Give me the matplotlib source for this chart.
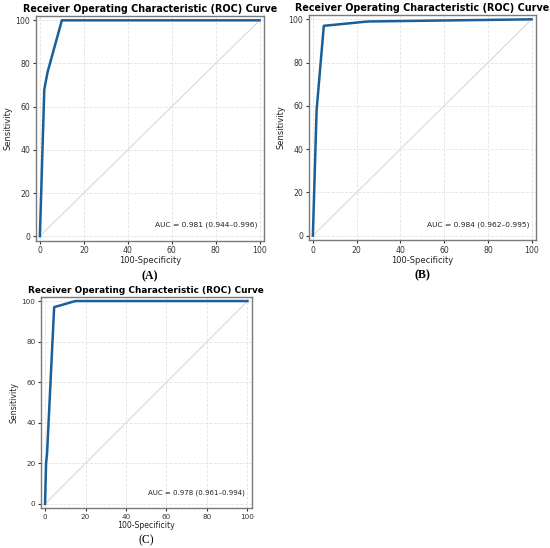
import matplotlib.pyplot as plt

# ROC points (100-specificity, sensitivity)
fpr_a = [0, 2, 3.5, 10, 100]
tpr_a = [0, 68, 76, 100, 100]
fpr_b = [0, 1.7, 5, 25, 100]
tpr_b = [0, 58, 97, 99, 100]
fpr_c = [0, 0.5, 1, 4.5, 15, 100]
tpr_c = [0, 20, 25, 97, 100, 100]

auc_texts = ["AUC = 0.981 (0.944\u20130.996)",
             "AUC = 0.984 (0.962\u20130.995)",
             "AUC = 0.978 (0.961\u20130.994)"]
panel_labels = ["(A)", "(B)", "(C)"]
ticks = [0, 20, 40, 60, 80, 100]

W, H = 550, 548
fig = plt.figure(figsize=(W / 100, H / 100), dpi=100)


def px_axes(left, top, right, bottom):
    return fig.add_axes([left / W, 1 - bottom / H, (right - left) / W, (bottom - top) / H])


def roc_panel(ax, fpr, tpr, auc_text, label, label_y, label_bold=True, k=1.0):
    ax.plot([0, 100], [0, 100], color="#d9d9d9", lw=0.8)
    ax.plot(fpr, tpr, color="#1b5f98", lw=1.8)
    ax.set_xlim(-2, 102)
    ax.set_ylim(-2, 102)
    ax.set_xticks(ticks)
    ax.set_yticks(ticks)
    ax.grid(True, ls="--", color="#e3e3e3", lw=0.6)
    ax.tick_params(labelsize=5.6 * k, length=2.5, colors="#333333", pad=1.5)
    for s in ax.spines.values():
        s.set_color("#7a7a7a")
        s.set_linewidth(1.0)
    ax.set_title("Receiver Operating Characteristic (ROC) Curve",
                 fontsize=6.9 * k, fontweight="bold", pad=3)
    ax.set_xlabel("100-Specificity", fontsize=6.0 * k, labelpad=1, color="#222222")
    ax.set_ylabel("Sensitivity", fontsize=6.0 * k, labelpad=2, color="#222222")
    ax.text(0.97, 0.055, auc_text, transform=ax.transAxes, ha="right",
            va="bottom", fontsize=5.4 * k, color="#222222")
    fig.text(ax.get_position().x0 + ax.get_position().width / 2, 1 - label_y / H,
             label, ha="center", va="center", fontsize=8.5,
             family="Liberation Serif",
             fontweight="bold" if label_bold else "normal")


ax_a = px_axes(35.5, 16, 264, 240.5)
roc_panel(ax_a, fpr_a, tpr_a, auc_texts[0], panel_labels[0], 276)

ax_b = px_axes(308.5, 15, 536, 240)
roc_panel(ax_b, fpr_b, tpr_b, auc_texts[1], panel_labels[1], 275)

ax_c = px_axes(41, 297, 251.5, 508)
roc_panel(ax_c, fpr_c, tpr_c, auc_texts[2], panel_labels[2], 540,
          label_bold=False, k=0.93)

fig.savefig("out.png", dpi=100)
